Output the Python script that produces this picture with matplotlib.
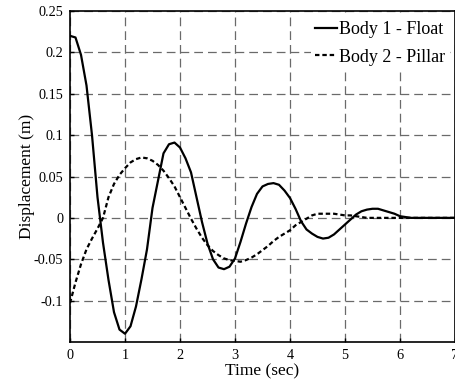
import numpy as np
import matplotlib
matplotlib.use('Agg')
import matplotlib.pyplot as plt

plt.rcParams['font.family'] = ['Liberation Serif', 'DejaVu Serif']
plt.rcParams['axes.unicode_minus'] = False

# tiempo (s), muestras cada 0.1 s
tiempo = [0.0, 0.1, 0.2, 0.3, 0.4, 0.5, 0.6, 0.7, 0.8, 0.9,
          1.0, 1.1, 1.2, 1.3, 1.4, 1.5, 1.6, 1.7, 1.8, 1.9,
          2.0, 2.1, 2.2, 2.3, 2.4, 2.5, 2.6, 2.7, 2.8, 2.9,
          3.0, 3.1, 3.2, 3.3, 3.4, 3.5, 3.6, 3.7, 3.8, 3.9,
          4.0, 4.1, 4.2, 4.3, 4.4, 4.5, 4.6, 4.7, 4.8, 4.9,
          5.0, 5.1, 5.2, 5.3, 5.4, 5.5, 5.6, 5.7, 5.8, 5.9,
          6.0, 6.1, 6.2, 6.3, 6.4, 6.5, 6.6, 6.7, 6.8, 6.9, 7.0]

# Body 1 - Float
flotador = [0.220, 0.218, 0.197, 0.160, 0.100, 0.025, -0.030, -0.075, -0.114, -0.135,
            -0.140, -0.131, -0.107, -0.074, -0.038, 0.012, 0.045, 0.078, 0.089, 0.091,
            0.085, 0.072, 0.055, 0.025, -0.005, -0.031, -0.050, -0.060, -0.062, -0.059,
            -0.049, -0.029, -0.007, 0.013, 0.029, 0.038, 0.041, 0.042, 0.040, 0.033,
            0.024, 0.011, -0.004, -0.014, -0.019, -0.023, -0.025, -0.024, -0.020, -0.014,
            -0.008, -0.002, 0.004, 0.008, 0.010, 0.011, 0.011, 0.009, 0.007, 0.005,
            0.002, 0.001, 0.0, 0.0, 0.0, 0.0, 0.0, 0.0, 0.0, 0.0, 0.0]

# Body 2 - Pillar
pilar = [-0.103, -0.078, -0.056, -0.038, -0.025, -0.013, 0.000, 0.025, 0.041, 0.052,
         0.060, 0.067, 0.071, 0.073, 0.072, 0.069, 0.064, 0.057, 0.048, 0.038,
         0.025, 0.012, -0.001, -0.013, -0.024, -0.033, -0.040, -0.045, -0.049, -0.051,
         -0.052, -0.053, -0.051, -0.048, -0.044, -0.039, -0.034, -0.028, -0.023, -0.019,
         -0.015, -0.009, -0.005, -0.001, 0.003, 0.005, 0.005, 0.005, 0.005, 0.004,
         0.003, 0.003, 0.002, 0.001, 0.0, 0.0, 0.0, 0.0, 0.0, 0.0,
         0.0, 0.0, 0.0, 0.0, 0.0, 0.0, 0.0, 0.0, 0.0, 0.0, 0.0]

xticks = [0, 1, 2, 3, 4, 5, 6, 7]
yticks = [-0.1, -0.05, 0, 0.05, 0.1, 0.15, 0.2, 0.25]
ytick_labels = ['-0.1', '-0.05', '0', '0.05', '0.1', '0.15', '0.2', '0.25']

fig = plt.figure(figsize=(4.56, 3.79), dpi=100)
ax = fig.add_axes([70/456, 37/379, 385/456, 331/379])

ax.plot(tiempo, flotador, '-', color='black', linewidth=1.6, label='Body 1 - Float', zorder=3)
ax.plot(tiempo, pilar, color='black', linewidth=1.6, dashes=(2.0, 1.3),
        label='Body 2 - Pillar', zorder=3)

ax.set_xlim(0, 7)
ax.set_ylim(-0.15, 0.25)
ax.set_xticks(xticks)
ax.set_yticks(yticks)
ax.set_yticklabels(ytick_labels)
ax.tick_params(direction='in', length=3, labelsize=10.3, width=1)
ax.tick_params(axis='x', pad=5)
ax.tick_params(axis='y', pad=5)

ax.grid(True, color='#6a6a6a', linestyle=(0, (7, 4)), linewidth=0.9)
for s in ax.spines.values():
    s.set_linewidth(1.2)

ax.set_xlabel('Time (sec)', fontsize=12.5, labelpad=1)
ax.set_ylabel('Displacement (m)', fontsize=12.5, labelpad=-1)

leg = ax.legend(loc='upper right', fontsize=13, frameon=True, fancybox=False,
                handlelength=1.2, handletextpad=0.1, labelspacing=0.6,
                borderpad=0.25, borderaxespad=0.3)
leg.get_frame().set_edgecolor('none')
leg.get_frame().set_facecolor('white')
leg.get_frame().set_alpha(1)

fig.savefig('out.png', dpi=100)
